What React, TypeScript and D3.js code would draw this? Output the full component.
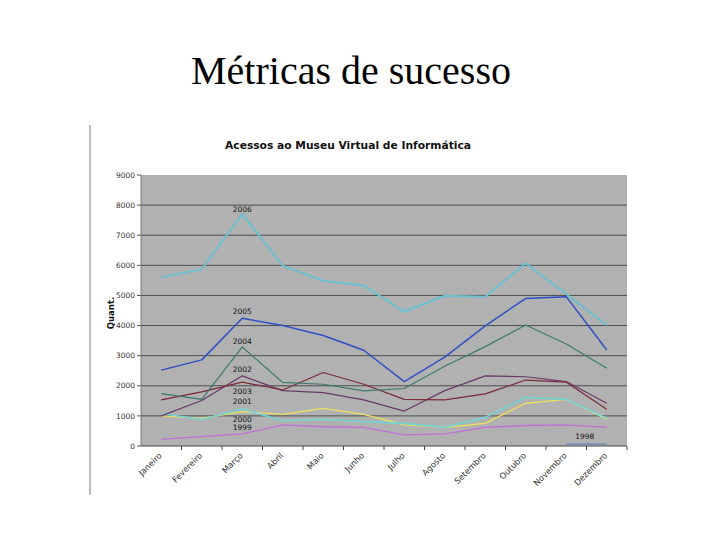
import { scaleBand, scaleLinear, line } from "d3";

const months = [
  "Janeiro", "Fevereiro", "Março", "Abril", "Maio", "Junho",
  "Julho", "Agosto", "Setembro", "Outubro", "Novembro", "Dezembro",
];
const yTicks = [0, 1000, 2000, 3000, 4000, 5000, 6000, 7000, 8000, 9000];

const v2006 = [5600, 5870, 7700, 5990, 5490, 5330, 4460, 4990, 4960, 6070, 5050, 4010];
const v2005 = [2520, 2860, 4240, 4000, 3670, 3180, 2140, 2950, 3990, 4900, 4960, 3190];
const v2004 = [1740, 1550, 3290, 2110, 2050, 1830, 1910, 2650, 3300, 4020, 3390, 2580];
const v2003 = [1530, 1800, 2120, 1860, 2440, 2050, 1550, 1530, 1730, 2190, 2120, 1220];
const v2002 = [1000, 1510, 2330, 1840, 1770, 1530, 1160, 1840, 2330, 2300, 2140, 1420];
const v2001 = [1080, 880, 1230, 840, 890, 810, 750, 620, 950, 1620, 1550, 920];
const v2000 = [1000, 920, 1140, 1050, 1250, 1050, 700, 620, 750, 1420, 1550, 890];
const v1999 = [220, 310, 400, 700, 640, 620, 370, 400, 620, 680, 700, 620];
const v1998 = [null, null, null, null, null, null, null, null, null, null, 60, 60];

type Series = {
  name: string;
  values: (number | null)[];
  color: string;
  width: number;
  labelAt: number;
  labelDy: number;
  labelDx: number;
};

const series: Series[] = [
  { name: "1998", values: v1998, color: "#7f8fb2", width: 2, labelAt: 11, labelDy: -8, labelDx: -22 },
  { name: "1999", values: v1999, color: "#c06ed6", width: 1.3, labelAt: 2, labelDy: -6.5, labelDx: 0 },
  { name: "2000", values: v2000, color: "#eee060", width: 1.3, labelAt: 2, labelDy: 8, labelDx: 0 },
  { name: "2001", values: v2001, color: "#72d4d4", width: 1.6, labelAt: 2, labelDy: -7.5, labelDx: 0 },
  { name: "2002", values: v2002, color: "#6a3868", width: 1.2, labelAt: 2, labelDy: -6.5, labelDx: 0 },
  { name: "2003", values: v2003, color: "#7a2a38", width: 1.2, labelAt: 2, labelDy: 9, labelDx: 0 },
  { name: "2004", values: v2004, color: "#3d7a6c", width: 1.2, labelAt: 2, labelDy: -5.5, labelDx: 0 },
  { name: "2005", values: v2005, color: "#3050c4", width: 1.5, labelAt: 2, labelDy: -7, labelDx: 0 },
  { name: "2006", values: v2006, color: "#6cc0d2", width: 2, labelAt: 2, labelDy: -4.5, labelDx: 0 },
];

const App = () => {
  const plot = { left: 141, right: 627, top: 175, bottom: 446 };

  const x = scaleBand().domain(months).range([plot.left, plot.right]);
  const y = scaleLinear().domain([0, 9000]).range([plot.bottom, plot.top]);
  const cx = (i: number) => (x(months[i]) ?? 0) + x.bandwidth() / 2;

  const path = line<number | null>()
    .defined((d) => d !== null)
    .x((_, i) => cx(i))
    .y((d) => y(d as number));

  const small = "'DejaVu Sans', Verdana, sans-serif";

  return (
    <svg
      width={720}
      height={540}
      style={{ position: "absolute", left: 0, top: 0, background: "#fff" }}
    >
      <text
        x={351}
        y={84}
        textAnchor="middle"
        fontFamily="'Liberation Serif', 'Times New Roman', serif"
        fontSize={40}
        fill="#000"
      >
        Métricas de sucesso
      </text>

      <line x1={90} x2={90} y1={125} y2={495} stroke="#a8a8a8" strokeWidth={1.5} />

      <text
        x={348}
        y={149}
        textAnchor="middle"
        fontFamily={small}
        fontWeight="bold"
        fontSize={10.7}
        fill="#111"
      >
        Acessos ao Museu Virtual de Informática
      </text>

      <rect
        x={plot.left}
        y={plot.top}
        width={plot.right - plot.left}
        height={plot.bottom - plot.top}
        fill="#b1b1b1"
      />

      {yTicks.map((t) => (
        <g key={`yt-${t}`}>
          {t > 0 && t < 9000 && (
            <line x1={plot.left} x2={plot.right} y1={y(t)} y2={y(t)} stroke="#4e4e4e" strokeWidth={1} />
          )}
          <line x1={plot.left - 4} x2={plot.left} y1={y(t)} y2={y(t)} stroke="#555" />
          <text
            x={135}
            y={y(t)}
            dy="0.35em"
            textAnchor="end"
            fontFamily={small}
            fontSize={7.5}
            fill="#333"
          >
            {t}
          </text>
        </g>
      ))}

      <line x1={plot.left} x2={plot.left} y1={plot.top} y2={plot.bottom} stroke="#777" />
      <line x1={plot.left} x2={plot.right} y1={plot.bottom} y2={plot.bottom} stroke="#444" />

      {months.map((m, i) => (
        <g key={`xt-${m}`}>
          <line
            x1={(x(m) ?? 0) + x.bandwidth()}
            x2={(x(m) ?? 0) + x.bandwidth()}
            y1={plot.bottom}
            y2={plot.bottom + 4}
            stroke="#444"
          />
          <text
            transform={`translate(${cx(i) - 1}, ${plot.bottom + 8}) rotate(-45)`}
            textAnchor="end"
            dy="0.35em"
            fontFamily={small}
            fontSize={8.3}
            fill="#333"
          >
            {m}
          </text>
        </g>
      ))}

      <text
        transform={`translate(111, 313) rotate(-90)`}
        textAnchor="middle"
        dy="0.35em"
        fontFamily={small}
        fontWeight="bold"
        fontSize={8.5}
        fill="#111"
      >
        Quant.
      </text>

      {series.map((s) => (
        <path
          key={`l-${s.name}`}
          d={path(s.values) ?? ""}
          fill="none"
          stroke={s.color}
          strokeWidth={s.width}
          strokeLinejoin="round"
        />
      ))}

      {series.map((s) => (
        <text
          key={`lab-${s.name}`}
          x={cx(s.labelAt) + s.labelDx}
          y={y(s.values[s.labelAt] as number) + s.labelDy}
          dy="0.35em"
          textAnchor="middle"
          fontFamily={small}
          fontSize={7.5}
          fill="#111"
        >
          {s.name}
        </text>
      ))}
    </svg>
  );
};

export default App;
